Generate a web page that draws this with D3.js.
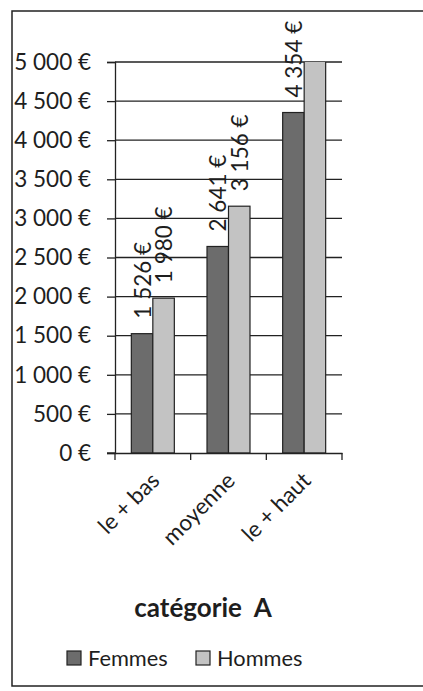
<!DOCTYPE html>
<html>
<head>
<meta charset="utf-8">
<script src="https://cdn.jsdelivr.net/npm/d3@7"></script>
<style>
  html, body { margin: 0; padding: 0; background: #fff; }
  svg { display: block; }
  text { font-family: Lato, "Open Sans", sans-serif; fill: #1e1e1e; }
</style>
</head>
<body>
<svg id="chart" width="423" height="691"></svg>
<script>
// Salaires par catégorie (catégorie A)
const categories = ["le + bas", "moyenne", "le + haut"];
const series = ["Femmes", "Hommes"];
const femmes = [1526, 2641, 4354];
const hommes = [1980, 3156, 5300]; // dernière barre au-delà du maximum de l'axe
const yTicks = [0, 500, 1000, 1500, 2000, 2500, 3000, 3500, 4000, 4500, 5000];
const title = "catégorie  A";

const colors = { Femmes: "#6c6c6c", Hommes: "#c3c3c3" };
const ink = "#222";

const svg = d3.select("#chart");

// Cadre de la zone de graphique
svg.append("rect")
  .attr("x", 12).attr("y", 11)
  .attr("width", 440).attr("height", 675)
  .attr("fill", "#fff").attr("stroke", ink).attr("stroke-width", 1.5);

const plot = { left: 115, right: 342, top: 62, bottom: 453 };

const x0 = d3.scaleBand().domain(categories).range([plot.left, plot.right]).padding(0);
const x1 = d3.scaleBand().domain(series).range([0, x0.bandwidth()]).paddingInner(0).paddingOuter(0.76);
const y = d3.scaleLinear().domain([0, 5000]).range([plot.bottom, plot.top]);

const locale = d3.formatLocale({ decimal: ",", thousands: " ", grouping: [3], currency: ["", " €"] });
const fmt = locale.format("$,");

// Grille horizontale
svg.append("g")
  .selectAll("line")
  .data(yTicks.filter(d => d > 0))
  .join("line")
  .attr("x1", plot.left).attr("x2", plot.right)
  .attr("y1", d => y(d)).attr("y2", d => y(d))
  .attr("stroke", ink).attr("stroke-width", 1.3);

// Axe vertical
const yAxis = d3.axisLeft(y).tickValues(yTicks).tickSize(8).tickPadding(16).tickFormat(fmt);
const gy = svg.append("g").attr("transform", `translate(${plot.left},0)`).call(yAxis);
gy.select(".domain").attr("stroke", ink).attr("stroke-width", 1.3);
gy.selectAll(".tick line").attr("stroke", ink).attr("stroke-width", 1.3);
gy.selectAll(".tick text").attr("font-size", 22.5).attr("fill", "#1e1e1e").style("font-family", "Lato");

// Barres
svg.append("clipPath").attr("id", "plot-clip")
  .append("rect")
  .attr("x", plot.left).attr("y", plot.top)
  .attr("width", plot.right - plot.left).attr("height", plot.bottom - plot.top);

const rows = categories.map((c, i) => ({ cat: c, Femmes: femmes[i], Hommes: hommes[i] }));
const bars = svg.append("g").attr("clip-path", "url(#plot-clip)");
const groups = bars.selectAll("g").data(rows).join("g")
  .attr("transform", d => `translate(${x0(d.cat)},0)`);
groups.selectAll("rect")
  .data(d => series.map(s => ({ s, v: d[s] })))
  .join("rect")
  .attr("x", d => x1(d.s))
  .attr("width", x1.bandwidth())
  .attr("y", d => y(d.v))
  .attr("height", d => y(0) - y(d.v))
  .attr("fill", d => colors[d.s])
  .attr("stroke", ink).attr("stroke-width", 1.2);

// Étiquettes de données verticales (seulement pour les valeurs dans l'axe)
const labels = svg.append("g");
rows.forEach(r => {
  series.forEach(s => {
    const v = r[s];
    if (v > 5000) return;
    const cx = x0(r.cat) + x1(s) + x1.bandwidth() / 2;
    const cy = y(v) - 15;
    labels.append("text")
      .attr("transform", `translate(${cx},${cy}) rotate(-90)`)
      .attr("text-anchor", "start")
      .attr("dominant-baseline", "central")
      .attr("font-size", 22.5)
      .text(fmt(v));
  });
});

// Axe horizontal
const xAxis = d3.axisBottom(x0).tickSize(0).tickFormat("");
const gx = svg.append("g").attr("transform", `translate(0,${plot.bottom})`).call(xAxis);
gx.select(".domain").attr("stroke", ink).attr("stroke-width", 1.3);
// Graduations aux limites des catégories
const bounds = [plot.left, ...categories.map(c => x0(c) + x0.bandwidth())];
svg.append("g").selectAll("line").data(bounds).join("line")
  .attr("x1", d => d).attr("x2", d => d)
  .attr("y1", plot.bottom).attr("y2", plot.bottom + 7)
  .attr("stroke", ink).attr("stroke-width", 1.3);
svg.append("line")
  .attr("x1", plot.left - 8).attr("x2", plot.left)
  .attr("y1", plot.bottom).attr("y2", plot.bottom)
  .attr("stroke", ink).attr("stroke-width", 1.3);

// Libellés de catégories inclinés
svg.append("g").selectAll("text").data(categories).join("text")
  .attr("transform", d => `translate(${x0(d) + x0.bandwidth() / 2 + 8},${plot.bottom + 29}) rotate(-45)`)
  .attr("text-anchor", "end")
  .attr("font-size", 22.5)
  .text(d => d);

// Titre
svg.append("text")
  .attr("x", 203).attr("y", 617)
  .attr("text-anchor", "middle")
  .attr("font-size", 26).attr("font-weight", "bold")
  .style("white-space", "pre")
  .text(title);

// Légende
const legendX = [67, 196];
const lg = svg.append("g").selectAll("g").data(series).join("g")
  .attr("transform", (d, i) => `translate(${legendX[i]},651)`);
lg.append("rect")
  .attr("width", 14).attr("height", 14)
  .attr("fill", d => colors[d]).attr("stroke", ink).attr("stroke-width", 1.2);
lg.append("text")
  .attr("x", 21).attr("y", 15)
  .attr("font-size", 21.8)
  .text(d => d);
</script>
</body>
</html>
